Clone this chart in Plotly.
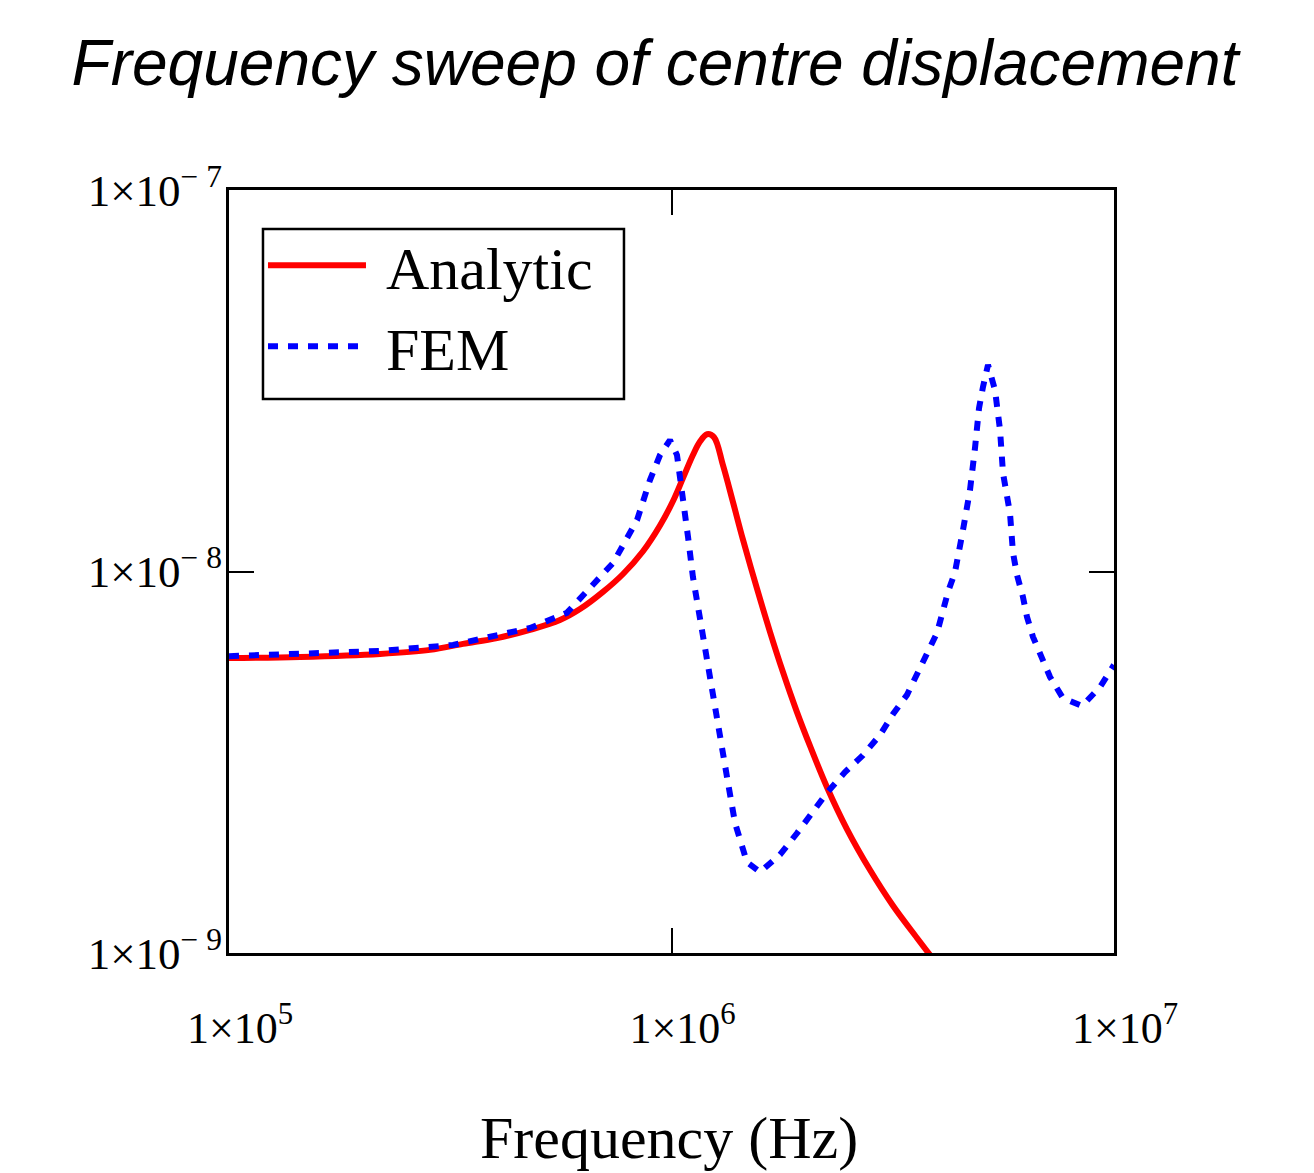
import plotly.graph_objects as go

# Analytic solution (Hz, m)
analytic_freq = [1.000e5, 1.447e5, 2.194e5, 2.846e5, 3.379e5, 4.033e5, 4.788e5, 5.598e5,
                 6.212e5, 7.000e5, 7.771e5, 8.622e5, 9.419e5, 1.008e6, 1.062e6, 1.118e6,
                 1.160e6, 1.203e6, 1.247e6, 1.307e6, 1.377e6, 1.451e6, 1.561e6, 1.670e6,
                 1.786e6, 1.921e6, 2.056e6, 2.246e6, 2.493e6, 2.810e6, 3.167e6, 3.588e6,
                 3.839e6]
analytic_disp = [5.93e-9, 5.97e-9, 6.08e-9, 6.23e-9, 6.46e-9, 6.69e-9, 7.03e-9, 7.46e-9,
                 7.97e-9, 8.84e-9, 9.85e-9, 1.13e-8, 1.32e-8, 1.53e-8, 1.76e-8, 2.02e-8,
                 2.19e-8, 2.29e-8, 2.25e-8, 1.90e-8, 1.52e-8, 1.21e-8, 9.00e-9, 6.94e-9,
                 5.45e-9, 4.28e-9, 3.49e-9, 2.72e-9, 2.11e-9, 1.65e-9, 1.33e-9, 1.095e-9,
                 9.88e-10]

# FEM results (Hz, m)
fem_freq = [1.00e5, 1.447e5, 2.19e5, 3.21e5, 4.79e5, 5.80e5, 7.38e5, 8.36e5, 8.94e5, 9.42e5,
            9.92e5, 1.029e6, 1.062e6, 1.090e6, 1.118e6, 1.160e6, 1.203e6, 1.241e6, 1.287e6,
            1.342e6, 1.392e6, 1.481e6, 1.585e6, 1.759e6, 1.921e6, 2.246e6, 2.467e6, 2.709e6,
            2.960e6, 3.167e6, 3.406e6, 3.607e6, 3.981e6, 4.216e6, 4.372e6, 4.558e6, 4.727e6,
            4.852e6, 4.954e6, 5.058e6, 5.191e6, 5.384e6, 5.526e6, 5.613e6, 5.821e6, 5.912e6,
            6.037e6, 6.228e6, 6.359e6, 6.560e6, 6.876e6, 7.169e6, 7.665e6, 8.466e6, 9.299e6,
            1.00e7]
fem_disp = [6.00e-9, 6.08e-9, 6.19e-9, 6.42e-9, 7.11e-9, 7.79e-9, 1.053e-8, 1.365e-8, 1.737e-8,
            2.02e-8, 2.21e-8, 2.02e-8, 1.57e-8, 1.23e-8, 9.67e-9, 7.46e-9, 5.86e-9, 4.61e-9,
            3.55e-9, 2.79e-9, 2.19e-9, 1.73e-9, 1.63e-9, 1.81e-9, 2.06e-9, 2.63e-9, 2.98e-9,
            3.30e-9, 3.73e-9, 4.23e-9, 4.75e-9, 5.42e-9, 6.90e-9, 8.84e-9, 9.97e-9, 1.285e-8,
            1.635e-8, 2.11e-8, 2.68e-8, 3.05e-8, 3.48e-8, 2.99e-8, 2.35e-8, 1.81e-8, 1.42e-8,
            1.12e-8, 9.79e-9, 8.57e-9, 7.60e-9, 6.74e-9, 5.97e-9, 5.29e-9, 4.66e-9, 4.44e-9,
            4.98e-9, 5.69e-9]

x_tickvals = [1e5, 1e6, 1e7]
x_ticktext = ["1×10<sup>5</sup>", "1×10<sup>6</sup>", "1×10<sup>7</sup>"]
y_tickvals = [1e-9, 1e-8, 1e-7]
y_ticktext = ["1×10<sup>− 9</sup>", "1×10<sup>− 8</sup>", "1×10<sup>− 7</sup>"]

serif = "Liberation Serif, Times New Roman, serif"
nb = "\u00a0"

fig = go.Figure()
fig.add_trace(go.Scatter(x=analytic_freq, y=analytic_disp, mode="lines", name=nb + "Analytic",
                         line=dict(color="#ff0000", width=6, shape="spline", smoothing=1.0)))
fig.add_trace(go.Scatter(x=fem_freq, y=fem_disp, mode="lines", name=nb + "FEM",
                         line=dict(color="#0000ff", width=6, dash="10px,10px")))

fig.update_layout(
    width=1314, height=1173,
    margin=dict(l=229, r=200, t=190, b=220),
    paper_bgcolor="white", plot_bgcolor="white",
    title=dict(text="<i>Frequency sweep of centre displacement</i>",
               font=dict(family="Liberation Sans, Arial, sans-serif", size=64, color="black"),
               x=0.4985, xanchor="center", y=0.9465, yref="container", yanchor="middle"),
    showlegend=True,
    legend=dict(x=0.0384, y=0.961, xanchor="left", yanchor="top",
                borderwidth=0, bgcolor="rgba(0,0,0,0)",
                font=dict(family=serif, size=60, color="black"),
                itemwidth=98, tracegroupgap=0),
    shapes=[dict(type="rect", xref="paper", yref="paper",
                 x0=0.0384, x1=0.4463, y0=0.7261, y1=0.9489,
                 line=dict(color="black", width=2.5), layer="above")],
    xaxis=dict(type="log", range=[5, 7], tickvals=x_tickvals, ticktext=x_ticktext,
               ticks="inside", ticklen=25, tickwidth=2, tickcolor="black",
               showline=True, linecolor="black", linewidth=3, mirror="ticks",
               showgrid=False, zeroline=False, ticklabelstandoff=34, ticklabelshift=11,
               tickfont=dict(family=serif, size=44, color="black")),
    yaxis=dict(type="log", range=[-9, -7], tickvals=y_tickvals, ticktext=y_ticktext,
               ticks="inside", ticklen=25, tickwidth=2, tickcolor="black",
               showline=True, linecolor="black", linewidth=3, mirror="ticks",
               showgrid=False, zeroline=False, ticklabelstandoff=-5,
               tickfont=dict(family=serif, size=45, color="black")),
    annotations=[dict(text="Frequency (Hz)", xref="paper", yref="paper",
                      x=0.497, y=-0.243, xanchor="center", yanchor="middle",
                      showarrow=False, font=dict(family=serif, size=60, color="black"))],
)

fig.write_html("out.html", config={"displayModeBar": False},
               post_script="document.body.style.margin='0';")
